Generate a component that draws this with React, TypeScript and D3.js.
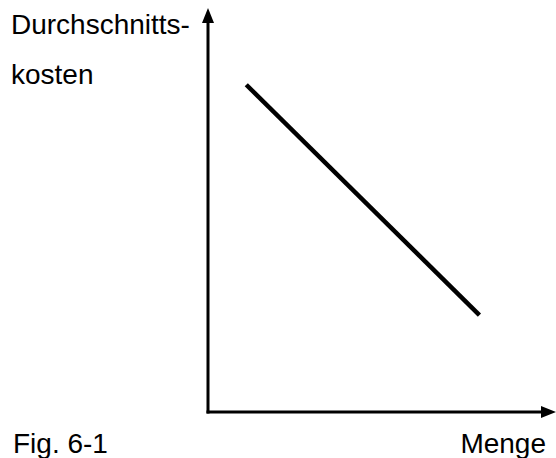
import React, { useEffect, useRef } from 'react';
import * as d3 from 'd3';

// average cost curve (quantity, cost in % of axis length)
const curveQ = [11, 78];
const curveC = [81, 24];
const yLabelLines = ['Durchschnitts-', 'kosten'];
const xLabel = 'Menge';
const figLabel = 'Fig. 6-1';

export default function App() {
  const ref = useRef<SVGSVGElement>(null);

  useEffect(() => {
    const svg = d3.select(ref.current);
    svg.selectAll('*').remove();

    const font = '"Liberation Sans", Arial, sans-serif';

    const x = d3.scaleLinear().domain([0, 100]).range([208, 556]);
    const y = d3.scaleLinear().domain([0, 100]).range([412, 8]);

    const head = 15; // arrow head length
    const half = 6;

    // y axis
    svg.append('line')
      .attr('x1', x(0)).attr('y1', y(0) + 1.5)
      .attr('x2', x(0)).attr('y2', y(100) + head - 2)
      .attr('stroke', '#000').attr('stroke-width', 3);
    svg.append('path')
      .attr('d', `M${x(0)},${y(100)} L${x(0) - half},${y(100) + head} L${x(0) + half},${y(100) + head} Z`)
      .attr('fill', '#000');

    // x axis
    svg.append('line')
      .attr('x1', x(0) - 1.5).attr('y1', y(0))
      .attr('x2', x(100) - head + 2).attr('y2', y(0))
      .attr('stroke', '#000').attr('stroke-width', 3);
    svg.append('path')
      .attr('d', `M${x(100)},${y(0)} L${x(100) - head},${y(0) - half} L${x(100) - head},${y(0) + half} Z`)
      .attr('fill', '#000');

    // cost line
    const pts = curveQ.map((q, i) => [q, curveC[i]] as [number, number]);
    const line = d3.line<[number, number]>().x(d => x(d[0])).y(d => y(d[1]));
    svg.append('path')
      .attr('d', line(pts))
      .attr('fill', 'none')
      .attr('stroke', '#000')
      .attr('stroke-width', 4.5);

    // labels
    svg.selectAll('.ylab')
      .data(yLabelLines)
      .join('text')
      .attr('class', 'ylab')
      .attr('x', 11)
      .attr('y', (d, i) => 34 + i * 50)
      .style('font-family', font)
      .style('font-size', '28px')
      .attr('fill', '#000')
      .text(d => d);

    svg.append('text')
      .attr('x', 546)
      .attr('y', 453)
      .attr('text-anchor', 'end')
      .style('font-family', font)
      .style('font-size', '28px')
      .attr('fill', '#000')
      .text(xLabel);

    svg.append('text')
      .attr('x', 13)
      .attr('y', 453)
      .style('font-family', font)
      .style('font-size', '28px')
      .attr('fill', '#000')
      .text(figLabel);
  }, []);

  return (
    <svg
      ref={ref}
      width={556}
      height={458}
      style={{ position: 'absolute', left: 0, top: 0, background: '#fff' }}
    />
  );
}
